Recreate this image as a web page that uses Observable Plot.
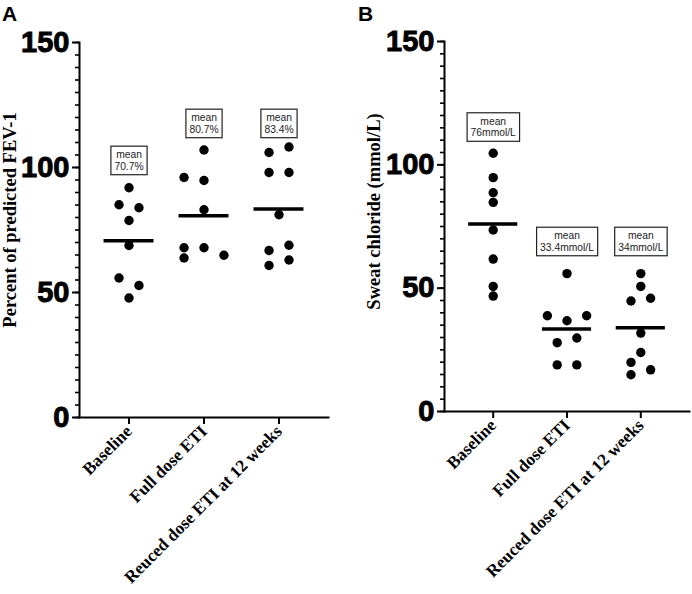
<!DOCTYPE html>
<html><head><meta charset="utf-8">
<script src="https://cdn.jsdelivr.net/npm/d3@7"></script>
<script src="https://cdn.jsdelivr.net/npm/@observablehq/plot@0.6"></script>
<style>
body{margin:0;background:#fff;}
#wrap{position:relative;width:692px;height:594px;overflow:hidden;background:#fff;}
.panel{position:absolute;top:0;}
.letter{position:absolute;font:bold 21px "Liberation Sans",Arial,sans-serif;color:#000;}
</style></head><body>
<div id="wrap">
<div class="panel" id="pa" style="left:0"></div>
<div class="panel" id="pb" style="left:346px"></div>
<div class="letter" style="left:2px;top:2px">A</div>
<div class="letter" style="left:358px;top:2px">B</div>
</div>
<script>
// categories
const groups = ["Baseline", "Full dose ETI", "Reuced dose ETI at 12 weeks"];

// Panel A: percent of predicted FEV-1
const fevBaseline = [91.9, 85.1, 83.9, 78.8, 68.8, 55.8, 52.8, 47.8];
const fevFull     = [107, 96, 94.8, 83.1, 67.9, 63.8, 67.9, 64.9];
const fevReduced  = [108.2, 106, 98, 98, 81.1, 68.9, 66.8, 63, 60.8];
// scatter column of each point (as arranged in the figure)
const fevBaselineCol = [0, -1, 1, 0, 0, -1, 1, 0];
const fevFullCol     = [0, -2, 0, 0, -2, -2, 0, 2];
const fevReducedCol  = [1, -1, -1, 1, 0, 1, -1, 1, -1];
const fevMeans = [70.7, 80.7, 83.4];
const fevMeanText = ["70.7%", "80.7%", "83.4%"];
const fevLabelAt = [102.9, 117.7, 117.7];

// Panel B: sweat chloride
const clBaseline = [104.7, 94.8, 88.7, 84.8, 73.6, 61.8, 50.7, 46.8];
const clFull     = [55.9, 38.8, 36.8, 38.8, 27.9, 29.8, 18.9, 18.9];
const clReduced  = [55.9, 50.7, 44.8, 45.9, 31.8, 23.9, 19.9, 16.9, 14.9];
const clBaselineCol = [0, 0, 0, 0, 0, 0, 0, 0];
const clFullCol     = [0, -2, 0, 2, -1, 1, -1, 1];
const clReducedCol  = [0, 0, -1, 1, 0, 0, -1, 1, -1];
const clMeans = [76, 33.4, 34];
const clMeanText = ["76mmol/L", "33.4mmol/L", "34mmol/L"];
const clLabelAt = [115.4, 69, 69];

const yTicks = [0, 50, 100, 150];

const SLOT = 0.133;  // column spacing in category units
const HALF = 0.333;  // half width of mean bar

function panel(el, cfg) {
  const pts = [];
  cfg.values.forEach((arr, i) => arr.forEach((v, j) => pts.push({g: i, v, col: cfg.cols[i][j]})));
  const ann = groups.map((g, i) => ({g: i, mean: cfg.means[i], text: "mean\n" + cfg.meanText[i], ly: cfg.labelAt[i]}));
  const svg = Plot.plot({
    width: 346, height: 594,
    marginLeft: cfg.ml, marginRight: cfg.mr, marginTop: cfg.mt, marginBottom: cfg.mb,
    x: {type: "linear", domain: [-0.66, 2.66], label: null},
    y: {domain: [0, 150], label: null},
    style: {background: "white", color: "black", overflow: "visible"},
    marks: [
      Plot.axisY({ticks: d3.range(0, 151, 5), tickSize: 4, tickFormat: () => "", strokeWidth: 1.6, label: null}),
      Plot.axisY({ticks: yTicks, tickSize: 7, tickPadding: 3, fontSize: 29, fontWeight: "bold",
                  fontFamily: "Liberation Sans, Arial, sans-serif", strokeWidth: 2, label: null}),
      Plot.axisX({ticks: [0, 1, 2], tickFormat: i => groups[i], tickRotate: -45, tickSize: 7, tickPadding: 4,
                  fontSize: 17.3, fontWeight: "bold", fontFamily: "Liberation Serif, Times New Roman, serif",
                  strokeWidth: 2, label: null}),
      Plot.frame({anchor: "left", strokeWidth: 2}),
      Plot.frame({anchor: "bottom", strokeWidth: 2}),
      Plot.dot(pts, {x: d => d.g + d.col * SLOT, y: "v", r: 4.7, fill: "black", stroke: null}),
      Plot.ruleY(ann, {y: "mean", x1: d => d.g - HALF, x2: d => d.g + HALF, strokeWidth: 3.5, stroke: "black"}),
      Plot.text(ann, {x: "g", y: "ly", text: "text", fontSize: 10.3, fill: "#222", lineHeight: 1.12,
                      fontFamily: "Liberation Sans, Arial, sans-serif", className: "meanlbl"}),
      Plot.text([cfg.yLabel], {text: d => d, frameAnchor: "left", textAnchor: "middle", rotate: -90, dx: cfg.ldx, dy: cfg.ldy,
                               fontSize: 18.5, fontWeight: "bold", fontFamily: "Liberation Serif, Times New Roman, serif", fill: "black"})
    ]
  });
  el.appendChild(svg);
  // heavier y tick numbers
  svg.querySelectorAll('g[aria-label="y-axis tick label"] text').forEach(t => {
    t.setAttribute("stroke", "black"); t.setAttribute("stroke-width", "0.9");
  });
  // boxes around mean labels
  svg.querySelectorAll("g.meanlbl text").forEach(t => {
    const b = t.getBBox();
    const r = document.createElementNS("http://www.w3.org/2000/svg", "rect");
    const px = 3.5, py = 3;
    r.setAttribute("x", b.x - px); r.setAttribute("y", b.y - py);
    r.setAttribute("width", b.width + 2 * px); r.setAttribute("height", b.height + 2 * py);
    r.setAttribute("fill", "white"); r.setAttribute("stroke", "#222"); r.setAttribute("stroke-width", "1.2");
    const tr = t.getAttribute("transform");
    if (tr) r.setAttribute("transform", tr);
    t.parentNode.insertBefore(r, t);
  });
}

panel(document.getElementById("pa"), {
  values: [fevBaseline, fevFull, fevReduced],
  cols: [fevBaselineCol, fevFullCol, fevReducedCol],
  means: fevMeans, meanText: fevMeanText, labelAt: fevLabelAt,
  yLabel: "Percent of predicted FEV-1",
  ml: 79, mr: 18, mt: 42, mb: 177, ldx: -69, ldy: -10
});
panel(document.getElementById("pb"), {
  values: [clBaseline, clFull, clReduced],
  cols: [clBaselineCol, clFullCol, clReducedCol],
  means: clMeans, meanText: clMeanText, labelAt: clLabelAt,
  yLabel: "Sweat chloride (mmol/L)",
  ml: 98, mr: 3, mt: 41, mb: 183, ldx: -70, ldy: -15
});
</script>
</body></html>
